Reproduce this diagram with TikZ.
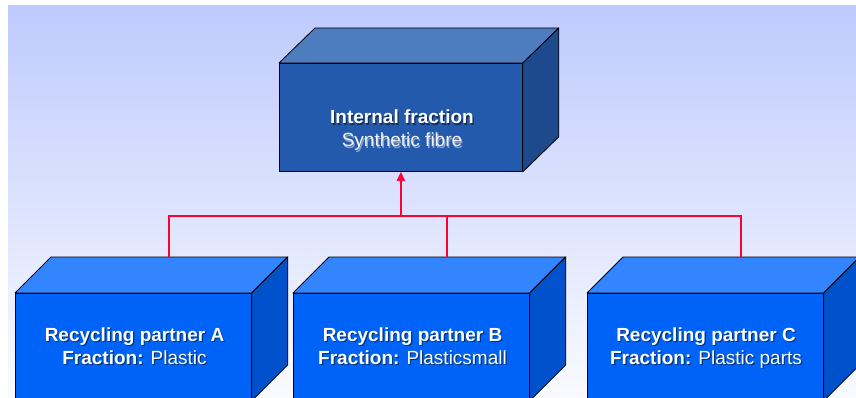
\documentclass[tikz,border=0pt]{standalone}
\usepackage{fontspec}
\setmainfont{Liberation Sans}
\usetikzlibrary{arrows.meta,calc}

\definecolor{topFront}{RGB}{36,90,173}
\definecolor{topLid}{RGB}{77,124,191}
\definecolor{topSide}{RGB}{30,73,141}
\definecolor{boxFront}{RGB}{0,99,247}
\definecolor{boxLid}{RGB}{51,133,255}
\definecolor{boxSide}{RGB}{0,82,204}
\definecolor{wireRed}{RGB}{255,0,51}
\definecolor{bgTop}{RGB}{190,202,253}
\definecolor{bgBottom}{RGB}{250,251,255}
\definecolor{softWhite}{RGB}{242,242,242}

% lid and side faces of a cuboid whose front face is node #1
\newcommand{\cuboidfaces}[5]{%
  \filldraw[face, fill=#2] (#1.north west) -- ++(#4,#5)
    -- ($(#1.north east)+(#4,#5)$) -- (#1.north east) -- cycle;
  \filldraw[face, fill=#3] (#1.north east) -- ++(#4,#5)
    -- ($(#1.south east)+(#4,#5)$) -- (#1.south east) -- cycle;
}

% label texts
\newcommand{\toptext}{\textbf{Internal fraction}\\\textcolor{softWhite}{Synthetic fibre}}
\newcommand{\atext}{\textbf{Recycling partner A}\\\textbf{Fraction:} Plastic}
\newcommand{\btext}{\textbf{Recycling partner B}\\\textbf{Fraction:} Plasticsmall}
\newcommand{\ctext}{\textbf{Recycling partner C}\\\textbf{Fraction:} Plastic parts}

\begin{document}
\begin{tikzpicture}[x=1pt,y=-1pt,
  face/.style={draw=black, line width=0.8pt, line join=round},
  front/.style={face, rectangle, inner sep=0pt, anchor=north west},
  topbox/.style={front, fill=topFront, minimum width=243pt, minimum height=108pt},
  partbox/.style={front, fill=boxFront, minimum width=236pt, minimum height=107pt},
  label/.style={font=\fontsize{19}{23}\selectfont, align=center, text=white,
    inner sep=0pt, anchor=base},
  shadowtxt/.style={label, text=black, opacity=0.5},
  wire/.style={draw=wireRed, line width=2pt}]

\useasboundingbox (0,0) rectangle (856,398);
\clip (0,0) rectangle (856,398);

% backdrop
\shade[top color=bgTop, bottom color=bgBottom] (8,6) rectangle (856,398);

% upper cuboid
\node[topbox] (top) at (279,63) {};
\cuboidfaces{top}{topLid}{topSide}{36}{-35}

% partner cuboids
\node[partbox] (a) at (15,293) {};
\cuboidfaces{a}{boxLid}{boxSide}{36}{-36}
\node[partbox] (b) at (293,293) {};
\cuboidfaces{b}{boxLid}{boxSide}{36}{-36}
\node[partbox] (c) at (587,293) {};
\cuboidfaces{c}{boxLid}{boxSide}{36}{-36}

% connectors
\coordinate (aBack) at ($(a.north)+(36,-36)$);
\coordinate (bBack) at ($(b.north)+(36,-36)$);
\coordinate (cBack) at ($(c.north)+(36,-36)$);
\coordinate (hub) at ([yshift=-44pt]top.south);
\draw[wire] (aBack) -- (aBack |- hub) -- (cBack |- hub) -- (cBack);
\draw[wire] (bBack) -- (bBack |- hub);
\draw[wire, -{Triangle[width=8pt,length=9pt]}] (hub) -- (top.south);

% labels with a soft drop shadow
\node[shadowtxt] (topShadow) at (403.2,148.2) {\toptext};
\node[label] (topLabel) at (402,147) {\toptext};
\node[shadowtxt] (aShadow) at (135.7,365.2) {\atext};
\node[label] (aLabel) at (134.5,364) {\atext};
\node[shadowtxt] (bShadow) at (413.7,365.2) {\btext};
\node[label] (bLabel) at (412.5,364) {\btext};
\node[shadowtxt] (cShadow) at (707.2,365.2) {\ctext};
\node[label] (cLabel) at (706,364) {\ctext};
\end{tikzpicture}
\end{document}
